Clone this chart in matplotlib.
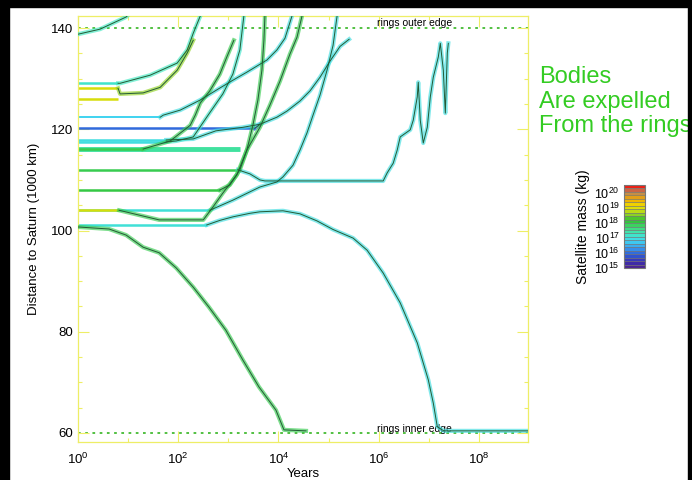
import numpy as np
import matplotlib
matplotlib.use("Agg")
import matplotlib.pyplot as plt
from matplotlib.colors import LinearSegmentedColormap, Normalize
from matplotlib.cm import ScalarMappable
from matplotlib.ticker import (FixedLocator, LogFormatterMathtext, MultipleLocator,
                               FixedFormatter, NullFormatter)
from matplotlib.patches import Rectangle

plt.rcParams['font.family'] = ['Liberation Sans', 'DejaVu Sans']
plt.rcParams['mathtext.default'] = 'regular'

# ring edges, 1000 km
r_inner = 60.0
r_outer = 140.0

# each satellite sits at start_r until 10**leave_logt years, then follows its path
start_r = [138.8, 129.1, 128.1, 126.0, 122.4, 120.2, 117.9, 117.5,
           116.1, 116.1, 112.0, 108.0, 104.0, 104.0, 101.1, 100.7]
leave_logt = [0.0, 0.80, 0.80, 0.80, 1.64, 3.53, 1.76, 1.76,
              3.23, 1.30, 3.19, 2.83, 2.63, 0.82, 2.57, 0.0]
mass_exp = [17.3, 17.2, 19.0, 19.0, 16.8, 16.0, 17.0, 17.0,
            17.5, 18.0, 18.0, 18.1, 17.1, 19.0, 17.1, 18.0]
path_mass_exp = [17.3, 17.3, 18.6, 19.0, 17.0, 16.0, 17.0, 17.2,
                 17.5, 18.0, 17.0, 18.0, 17.0, 18.0, 17.0, 18.0]
path_logt = [
    [0.44, 0.96, 1.0],
    [0.84, 1.44, 1.98, 2.18, 2.30, 2.44],
    [0.84, 1.30, 1.64, 1.98, 2.18, 2.30],
    [],
    [1.70, 2.04, 2.44, 2.77, 3.09, 3.37, 3.77, 3.97, 4.13, 4.27],
    [3.63],
    [2.30, 2.75, 3.29, 3.63, 3.97, 4.17, 4.43, 4.63, 4.83, 5.03, 5.23, 5.41],
    [1.96, 2.30, 2.61, 2.89, 3.09, 3.23, 3.31],
    [],
    [1.84, 2.24, 2.34, 2.44, 2.63, 2.83, 2.97, 3.11],
    [3.43, 3.63, 3.73, 6.09, 6.17, 6.29, 6.37, 6.43, 6.63, 6.69, 6.77, 6.79,
     6.83, 6.89, 6.97, 7.03, 7.09, 7.19, 7.23, 7.29, 7.33, 7.37, 7.39],
    [3.03, 3.23, 3.37, 3.49, 3.59, 3.67, 3.71, 3.73],
    [3.09, 3.63, 3.97, 4.09, 4.29, 4.43, 4.57, 4.69, 4.83, 4.97, 5.09, 5.17],
    [1.62, 2.50, 2.69, 2.89, 3.17, 3.37, 3.63, 3.83, 4.03, 4.23, 4.37, 4.47],
    [2.83, 3.09, 3.43, 3.63, 4.09, 4.43, 4.77, 5.09, 5.49, 5.77, 6.09, 6.43,
     6.77, 6.99, 7.09, 7.17, 7.30, 8.98],
    [0.62, 0.96, 1.30, 1.62, 1.96, 2.30, 2.61, 2.95, 3.29, 3.61, 3.95, 4.11, 4.55],
]
path_r = [
    [139.8, 142.2, 142.6],
    [129.1, 130.7, 133.1, 135.7, 139.0, 142.4],
    [127.0, 127.2, 128.3, 131.7, 135.1, 137.6],
    [],
    [122.8, 123.8, 125.8, 127.8, 129.7, 131.3, 133.7, 135.7, 138.0, 142.4],
    [121.0],
    [118.1, 119.7, 120.4, 121.0, 122.4, 123.6, 125.6, 127.6, 130.3, 133.5, 136.4, 137.8],
    [117.7, 118.5, 123.0, 127.0, 130.9, 135.7, 142.4],
    [],
    [117.7, 120.8, 122.8, 125.2, 127.6, 130.9, 134.3, 137.6],
    [111.2, 110.0, 109.8, 109.8, 111.4, 113.3, 115.9, 118.5, 119.9, 121.8, 126.4, 129.3,
     121.8, 117.3, 120.4, 126.4, 130.3, 134.3, 137.0, 131.7, 123.2, 135.1, 137.0],
    [109.0, 112.0, 115.9, 120.8, 125.8, 131.7, 137.6, 142.4],
    [106.0, 108.6, 109.6, 110.6, 112.9, 115.9, 119.3, 122.8, 126.8, 131.7, 136.6, 142.4],
    [102.1, 102.1, 104.6, 107.4, 111.0, 115.9, 120.4, 124.8, 129.5, 134.9, 138.2, 142.4],
    [102.0, 102.7, 103.4, 103.7, 103.9, 103.3, 101.9, 100.2, 98.5, 96.1, 91.6, 85.7,
     77.8, 70.5, 65.9, 61.2, 60.4, 60.4],
    [100.3, 99.1, 96.7, 95.6, 92.6, 88.8, 84.9, 80.3, 74.4, 69.1, 64.5, 60.6, 60.4],
]
# the thick start lines
start_lw = [1.8, 1.8, 1.8, 1.8, 1.4, 1.8, 1.8, 1.8,
            3.5, 1.8, 1.8, 1.8, 1.8, 1.8, 1.8, 1.8]

xtick_exps = [0, 2, 4, 6, 8]
xminor_exps = [1, 3, 5, 7]
cbar_ticks = [15, 16, 17, 18, 19, 20]
mass_min, mass_max = 15.0, 20.55

mass_colors = ['#50208a', '#3a2fb0', '#2f5fd8', '#3a9ff0', '#40d8f0', '#40e8c0',
               '#40d870', '#30c030', '#a8d820', '#f0e000', '#f0a800', '#b8865a', '#ff0000']
cmap = LinearSegmentedColormap.from_list('mass', mass_colors)
norm = Normalize(mass_min, mass_max)

axis_yellow = '#eeee66'

fig = plt.figure(figsize=(6.92, 4.80), dpi=100)
ax = fig.add_axes([78 / 692, 38 / 480, 450 / 692, 426 / 480])

# ring edges
ax.axhline(r_outer, color='#44bb33', lw=1.3, ls=(0, (1.5, 2.5)), zorder=1)
ax.axhline(r_inner, color='#44bb33', lw=1.3, ls=(0, (1.5, 2.5)), zorder=1)
ax.text(10 ** 5.97, 141.0, 'rings outer edge', fontsize=7.5, va='center', ha='left')
ax.text(10 ** 5.97, 60.7, 'rings inner edge', fontsize=7.5, va='center', ha='left')

for i in range(len(start_r)):
    t0 = 10 ** leave_logt[i]
    ax.plot([1, t0], [start_r[i], start_r[i]], color=cmap(norm(mass_exp[i])),
            lw=start_lw[i], solid_capstyle='butt', zorder=2)
    if path_logt[i]:
        x = [t0] + [10 ** v for v in path_logt[i]]
        y = [start_r[i]] + path_r[i]
        ax.plot(x, y, color=cmap(norm(path_mass_exp[i])), lw=3.0, alpha=0.65, zorder=3)
        ax.plot(x, y, color='#235a35', lw=0.7, zorder=4)

ax.set_xscale('log')
ax.set_xlim(1, 10 ** 8.98)
ax.set_ylim(58.2, 142.4)
ax.xaxis.set_major_locator(FixedLocator([10.0 ** e for e in xtick_exps]))
ax.xaxis.set_minor_locator(FixedLocator([10.0 ** e for e in xminor_exps]))
ax.xaxis.set_major_formatter(LogFormatterMathtext(base=10))
ax.xaxis.set_minor_formatter(NullFormatter())
ax.yaxis.set_major_locator(MultipleLocator(20))
ax.yaxis.set_minor_locator(MultipleLocator(5))

ax.tick_params(which='both', direction='in', top=True, right=True, color=axis_yellow)
ax.tick_params(which='major', length=8, width=0.8)
ax.tick_params(which='minor', length=3, width=0.8)
ax.tick_params(axis='x', labelsize=9.5, pad=7)
ax.tick_params(axis='y', labelsize=9.5, pad=3.5)
for s in ax.spines.values():
    s.set_color(axis_yellow)
    s.set_linewidth(0.9)

ax.set_xlabel('Years', fontsize=9.5, labelpad=1)
ax.set_ylabel('Distance to Saturn (1000 km)', fontsize=9.5, labelpad=8)

# mass colour scale
cax = fig.add_axes([624 / 692, 212 / 480, 21 / 692, 83 / 480])
cb = fig.colorbar(ScalarMappable(norm=norm, cmap=cmap), cax=cax,
                  boundaries=np.linspace(mass_min, mass_max, 25), drawedges=True)
cb.dividers.set_color('#777777')
cb.dividers.set_linewidth(0.5)
cb.outline.set_edgecolor('#777777')
cb.set_ticks(cbar_ticks)
cb.ax.yaxis.set_major_formatter(FixedFormatter(['$10^{%d}$' % e for e in cbar_ticks]))
cb.ax.yaxis.set_ticks_position('left')
cb.ax.yaxis.set_label_position('left')
cb.ax.tick_params(length=0, labelsize=9, pad=3)
cb.set_label('Satellite mass (kg)', fontsize=10, labelpad=3)

fig.text(539 / 692, 1 - 66 / 480, 'Bodies\nAre expelled\nFrom the rings',
         color='#33cc22', fontsize=17, va='top', ha='left', linespacing=1.15)

# black frame strips
for (x0, y0, w, h) in [(0, 0, 9 / 692, 1), (0, 1 - 7 / 480, 1, 7 / 480), (688 / 692, 0, 4 / 692, 1)]:
    fig.patches.append(Rectangle((x0, y0), w, h, transform=fig.transFigure,
                                 color='black', zorder=10))

fig.savefig('out.png', dpi=100)
